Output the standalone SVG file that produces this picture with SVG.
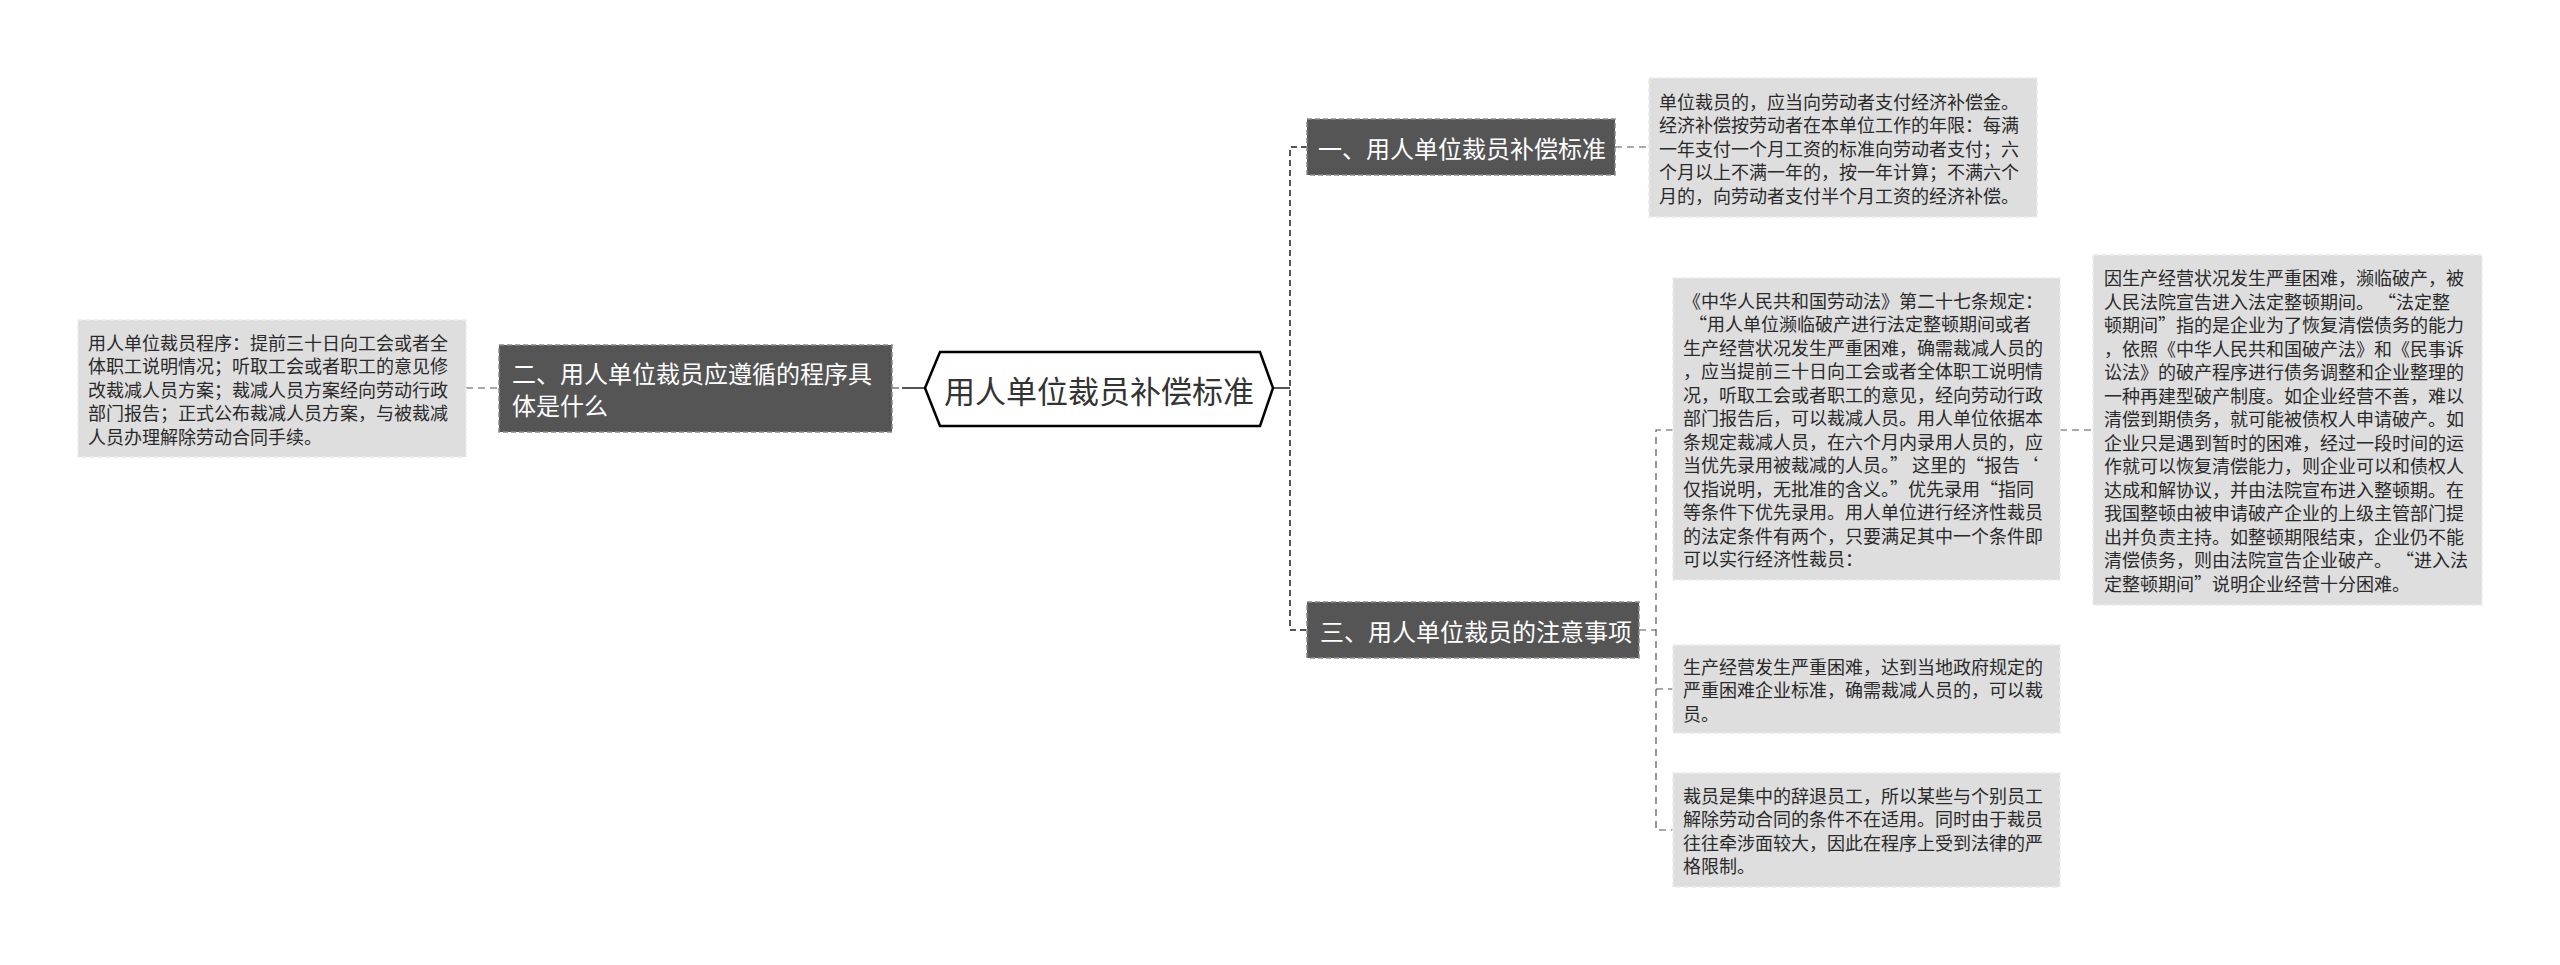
<svg xmlns="http://www.w3.org/2000/svg" width="2560" height="965" viewBox="0 0 2560 965">
<style>
text{font-family:"Microsoft YaHei","Noto Sans CJK SC",sans-serif;dominant-baseline:central}
.dark{fill:#555555;stroke:#8a8a8a;stroke-width:1.5;stroke-dasharray:5 3}
.dt{fill:#ffffff;font-size:24px}
.leaf{fill:#dedede;stroke:#ececec;stroke-width:1.5;stroke-dasharray:5 3}
.lt{fill:#2a2a2a;font-size:18px}
.c1{fill:none;stroke:#555555;stroke-width:2;stroke-dasharray:6 4}
.c2{fill:none;stroke:#555555;stroke-width:1.2;stroke-dasharray:7 5}
.solid{fill:none;stroke:#555555;stroke-width:2}
</style>
<rect width="2560" height="965" fill="#ffffff"/>
<g id="connectors">
<line class="solid" x1="1273" y1="388" x2="1290" y2="388"/>
<path class="c1" d="M1307 147 H1290 V630 H1307"/>
<line class="c2" x1="1615" y1="147" x2="1649" y2="147"/>
<line class="c2" x1="1639" y1="630" x2="1656" y2="630"/>
<path class="c2" d="M1673 430 H1656 V830 H1673"/>
<line class="c2" x1="1656" y1="689" x2="1673" y2="689"/>
<line class="c2" x1="2060" y1="430" x2="2093" y2="430"/>
<line class="solid" x1="902" y1="388" x2="925" y2="388"/>
<line class="c2" x1="892" y1="388" x2="902" y2="388"/>
<line class="c2" x1="466" y1="388" x2="499" y2="388"/>
</g>
<g id="root">
<polygon points="925,388 940,352 1260,352 1273,388 1260,426 940,426" fill="#ffffff" stroke="#000000" stroke-width="2.5"/>
<text x="1099" y="389" font-size="31" text-anchor="middle" fill="#333333">用人单位裁员补偿标准</text>
</g>
<g id="n1">
<rect class="dark" x="1307" y="119" width="308" height="56"/>
<text class="dt" x="1318" y="147">一、用人单位裁员补偿标准</text>
</g>
<g id="n2">
<rect class="dark" x="499" y="345" width="393" height="87"/>
<text class="dt" x="512" y="372.5">二、用人单位裁员应遵循的程序具</text>
<text class="dt" x="512" y="404.5">体是什么</text>
</g>
<g id="n3">
<rect class="dark" x="1307" y="602" width="332" height="56"/>
<text class="dt" x="1320" y="630">三、用人单位裁员的注意事项</text>
</g>
<g id="leaf1">
<rect class="leaf" x="1649" y="78" width="388" height="139"/>
<text class="lt" x="1659" y="100.5">单位裁员的，应当向劳动者支付经济补偿金。</text>
<text class="lt" x="1659" y="124">经济补偿按劳动者在本单位工作的年限：每满</text>
<text class="lt" x="1659" y="147.5">一年支付一个月工资的标准向劳动者支付；六</text>
<text class="lt" x="1659" y="171">个月以上不满一年的，按一年计算；不满六个</text>
<text class="lt" x="1659" y="194.5">月的，向劳动者支付半个月工资的经济补偿。</text>
</g>
<g id="leaf2">
<rect class="leaf" x="78" y="320" width="388" height="137"/>
<text class="lt" x="88" y="341.5">用人单位裁员程序：提前三十日向工会或者全</text>
<text class="lt" x="88" y="365">体职工说明情况；听取工会或者职工的意见修</text>
<text class="lt" x="88" y="388.5">改裁减人员方案；裁减人员方案经向劳动行政</text>
<text class="lt" x="88" y="412">部门报告；正式公布裁减人员方案，与被裁减</text>
<text class="lt" x="88" y="435.5">人员办理解除劳动合同手续。</text>
</g>
<g id="leaf3">
<rect class="leaf" x="1673" y="278" width="387" height="302"/>
<text class="lt" x="1683" y="299.75">《中华人民共和国劳动法》第二十七条规定：</text>
<text class="lt" x="1689" y="323.25">“用人单位濒临破产进行法定整顿期间或者</text>
<text class="lt" x="1683" y="346.75">生产经营状况发生严重困难，确需裁减人员的</text>
<text class="lt" x="1683" y="370.25">，应当提前三十日向工会或者全体职工说明情</text>
<text class="lt" x="1683" y="393.75">况，听取工会或者职工的意见，经向劳动行政</text>
<text class="lt" x="1683" y="417.25">部门报告后，可以裁减人员。用人单位依据本</text>
<text class="lt" x="1683" y="440.75">条规定裁减人员，在六个月内录用人员的，应</text>
<text class="lt" x="1683" y="464.25">当优先录用被裁减的人员。” 这里的“报告‘</text>
<text class="lt" x="1683" y="487.75">仅指说明，无批准的含义。”优先录用“指同</text>
<text class="lt" x="1683" y="511.25">等条件下优先录用。用人单位进行经济性裁员</text>
<text class="lt" x="1683" y="534.75">的法定条件有两个，只要满足其中一个条件即</text>
<text class="lt" x="1683" y="558.25">可以实行经济性裁员：</text>
</g>
<g id="leaf4">
<rect class="leaf" x="2093" y="255" width="389" height="350"/>
<text class="lt" x="2104" y="277.25">因生产经营状况发生严重困难，濒临破产，被</text>
<text class="lt" x="2104" y="300.75">人民法院宣告进入法定整顿期间。 “法定整</text>
<text class="lt" x="2104" y="324.25">顿期间”指的是企业为了恢复清偿债务的能力</text>
<text class="lt" x="2104" y="347.75">，依照《中华人民共和国破产法》和《民事诉</text>
<text class="lt" x="2104" y="371.25">讼法》的破产程序进行债务调整和企业整理的</text>
<text class="lt" x="2104" y="394.75">一种再建型破产制度。如企业经营不善，难以</text>
<text class="lt" x="2104" y="418.25">清偿到期债务，就可能被债权人申请破产。如</text>
<text class="lt" x="2104" y="441.75">企业只是遇到暂时的困难，经过一段时间的运</text>
<text class="lt" x="2104" y="465.25">作就可以恢复清偿能力，则企业可以和债权人</text>
<text class="lt" x="2104" y="488.75">达成和解协议，并由法院宣布进入整顿期。在</text>
<text class="lt" x="2104" y="512.25">我国整顿由被申请破产企业的上级主管部门提</text>
<text class="lt" x="2104" y="535.75">出并负责主持。如整顿期限结束，企业仍不能</text>
<text class="lt" x="2104" y="559.25">清偿债务，则由法院宣告企业破产。 “进入法</text>
<text class="lt" x="2104" y="582.75">定整顿期间”说明企业经营十分困难。</text>
</g>
<g id="leaf5">
<rect class="leaf" x="1673" y="645" width="387" height="88"/>
<text class="lt" x="1683" y="665.5">生产经营发生严重困难，达到当地政府规定的</text>
<text class="lt" x="1683" y="689">严重困难企业标准，确需裁减人员的，可以裁</text>
<text class="lt" x="1683" y="712.5">员。</text>
</g>
<g id="leaf6">
<rect class="leaf" x="1673" y="773" width="387" height="114"/>
<text class="lt" x="1683" y="794.75">裁员是集中的辞退员工，所以某些与个别员工</text>
<text class="lt" x="1683" y="818.25">解除劳动合同的条件不在适用。同时由于裁员</text>
<text class="lt" x="1683" y="841.75">往往牵涉面较大，因此在程序上受到法律的严</text>
<text class="lt" x="1683" y="865.25">格限制。</text>
</g>
</svg>
